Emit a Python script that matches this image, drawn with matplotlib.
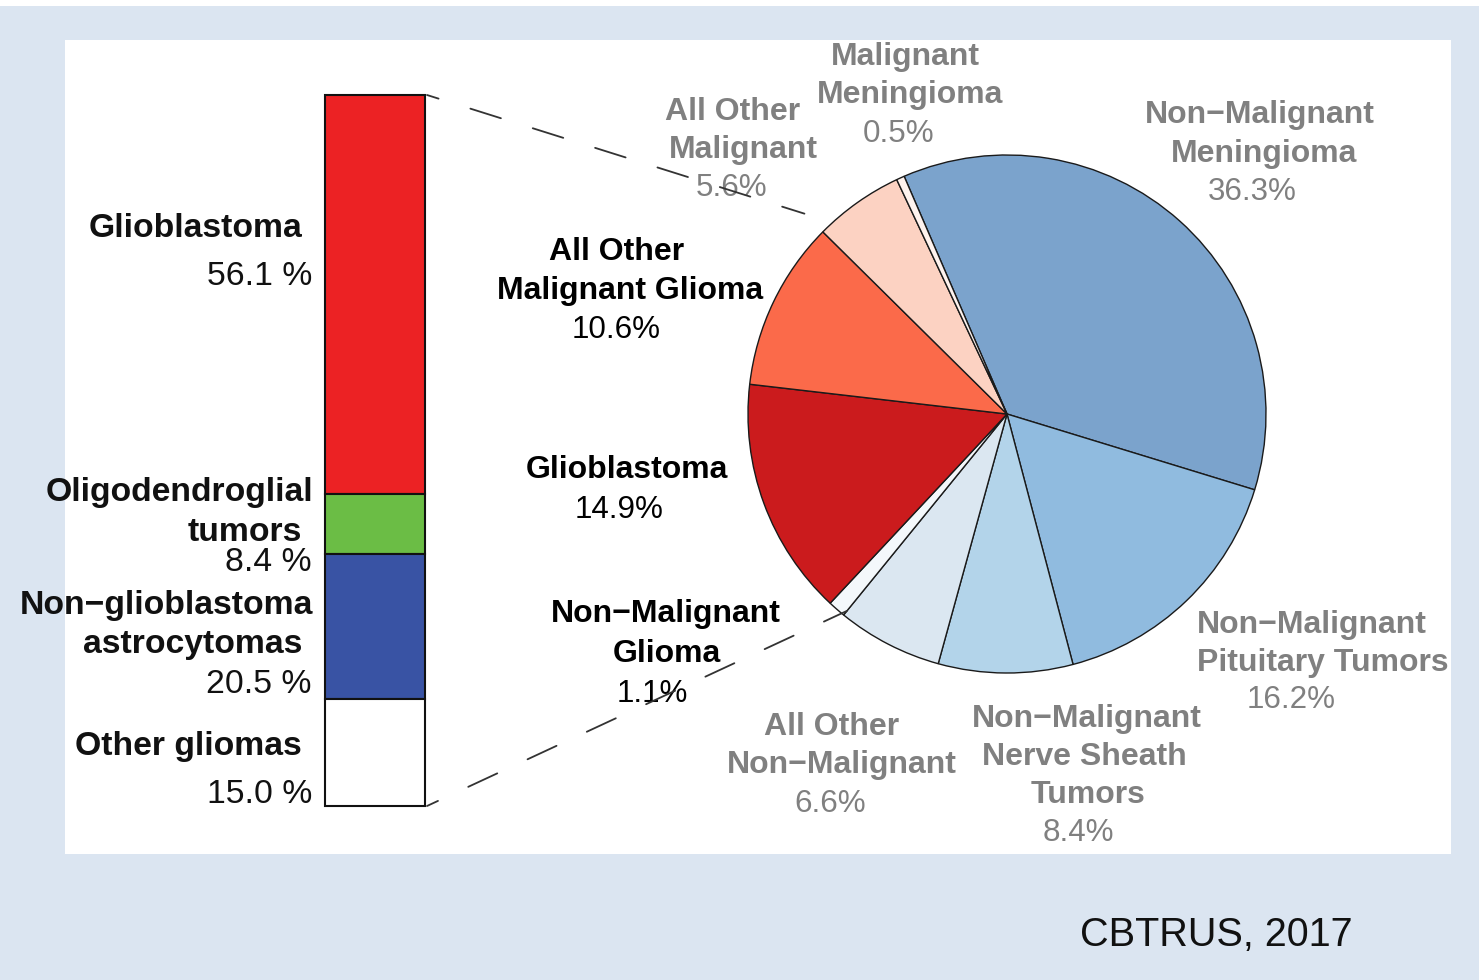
import matplotlib
matplotlib.use("Agg")
import matplotlib.pyplot as plt
from matplotlib.patches import Rectangle, ConnectionPatch
import numpy as np

plt.rcParams['font.family'] = ['Liberation Sans', 'DejaVu Sans']

# ---------------- data ----------------
bar_categories = ["Glioblastoma", "Oligodendroglial\ntumors",
                  "Non\u2212glioblastoma\nastrocytomas", "Other gliomas"]
bar_values = [56.1, 8.4, 20.5, 15.0]

pie_categories = ["Non\u2212Malignant\nMeningioma",
                  "Non\u2212Malignant\nPituitary Tumors",
                  "Non\u2212Malignant\nNerve Sheath\nTumors",
                  "All Other\nNon\u2212Malignant",
                  "Non\u2212Malignant\nGlioma",
                  "Glioblastoma",
                  "All Other\nMalignant Glioma",
                  "All Other\nMalignant",
                  "Malignant\nMeningioma"]
pie_values = [36.3, 16.2, 8.4, 6.6, 1.1, 14.9, 10.6, 5.6, 0.5]
pie_is_glioma = [False, False, False, False, True, True, True, False, False]
source_text = "CBTRUS, 2017"

# ---------------- styles / layout ----------------
bar_colors = ["#ec2224", "#6bbd45", "#3953a4", "#ffffff"]
pie_colors = ["#7ba3cc", "#90bbdf", "#b3d4ea", "#dbe7f1", "#f4f8fb",
              "#cb1b1d", "#fb6a4a", "#fcd2c2", "#fff3ee"]

# per-line label anchors (pixel coords): bar labels right-aligned
bar_label_pos = [[(302, 237), (312, 285)],
                 [(313, 501), (302, 541), (312, 571)],
                 [(313, 614), (302, 653), (312, 693)],
                 [(302, 755), (312, 803)]]
# pie labels centered
pie_label_pos = [[(1260, 123), (1264, 162), (1252, 200)],
                 [(1312, 633), (1323, 671), (1291, 708)],
                 [(1087, 727), (1084, 765), (1088, 803), (1078, 841)],
                 [(832, 735), (842, 773), (830, 812)],
                 [(666, 622), (667, 662), (652, 702)],
                 [(627, 478), (619, 518)],
                 [(617, 260), (630, 299), (616, 338)],
                 [(733, 120), (743, 158), (732, 196)],
                 [(905, 65), (910, 103), (899, 142)]]

W, H = 1479, 980
fig = plt.figure(figsize=(W / 100, H / 100), dpi=100)
fig.patch.set_facecolor("#dbe5f1")

ax = fig.add_axes([0, 0, 1, 1])
ax.set_xlim(0, W)
ax.set_ylim(H, 0)
ax.axis("off")

# background panels
ax.add_patch(Rectangle((0, 0), W, 6, facecolor="white", edgecolor="none", zorder=0))
ax.add_patch(Rectangle((65, 40), 1386, 814, facecolor="white", edgecolor="none", zorder=0))

# ---------------- pie ----------------
cx, cy, R = 1007, 414, 259
wedges, _ = ax.pie(pie_values, colors=pie_colors, startangle=-113.4,
                   counterclock=True, radius=R, center=(cx, cy), frame=True,
                   wedgeprops=dict(edgecolor="#1a1a1a", linewidth=1.0))
ax.set_xlim(0, W)
ax.set_ylim(H, 0)
ax.set_aspect("auto")
ax.axis("off")

grey = "#808080"
for name, val, glioma, pos in zip(pie_categories, pie_values, pie_is_glioma, pie_label_pos):
    col = "black" if glioma else grey
    lines = name.split("\n")
    for line, (x, y) in zip(lines, pos):
        ax.text(x, y, line, ha="center", va="baseline", fontsize=23,
                fontweight="bold", color=col, zorder=5)
    x, y = pos[len(lines)]
    ax.text(x, y, f"{val:.1f}%", ha="center", va="baseline", fontsize=22.6,
            color=col, zorder=5)

# ---------------- bar ----------------
bax = fig.add_axes([325 / W, (H - 806) / H, 100 / W, 711 / H])
bax.set_xlim(-0.5, 0.5)
bax.set_ylim(sum(bar_values), 0)
bottom = 0
for v, c in zip(bar_values, bar_colors):
    bax.bar(0, v, bottom=bottom, width=1.0, color=c, edgecolor="#111111",
            linewidth=1.5, clip_on=False)
    bottom += v
bax.axis("off")

for name, val, pos in zip(bar_categories, bar_values, bar_label_pos):
    lines = name.split("\n")
    for line, (x, y) in zip(lines, pos):
        ax.text(x, y, line, ha="right", va="baseline", fontsize=24.3,
                fontweight="bold", color="#111111", zorder=5)
    x, y = pos[len(lines)]
    ax.text(x, y, f"{val:.1f} %", ha="right", va="baseline", fontsize=24.3,
            color="#111111", zorder=5)

# ---------------- connector dashed lines ----------------
t_top = np.deg2rad(wedges[6].theta2)
t_bot = np.deg2rad(wedges[4].theta1)
p_top = (cx + 1.10 * R * np.cos(t_top), cy + 1.10 * R * np.sin(t_top))
p_bot = (cx + 0.98 * R * np.cos(t_bot), cy + 0.98 * R * np.sin(t_bot))
for yb, pt in [(0, p_top), (sum(bar_values), p_bot)]:
    con = ConnectionPatch(xyA=(0.52, yb), coordsA=bax.transData,
                          xyB=pt, coordsB=ax.transData,
                          color="#333333", linewidth=1.3,
                          linestyle=(11, (17.7, 18.5)), zorder=6)
    fig.add_artist(con)

# ---------------- source ----------------
ax.text(1080, 946, source_text, ha="left", va="baseline", fontsize=28.5,
        color="#111111")

fig.savefig("out.png", dpi=100, facecolor=fig.get_facecolor())
